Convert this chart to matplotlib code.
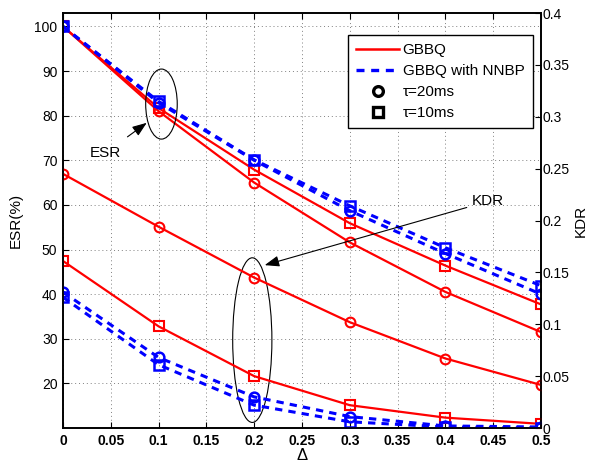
import numpy as np
import matplotlib
matplotlib.use('Agg')
import matplotlib.pyplot as plt
from matplotlib.lines import Line2D
from matplotlib.patches import Ellipse

plt.rcParams['font.family'] = ['Liberation Sans', 'DejaVu Sans']

delta = [0, 0.1, 0.2, 0.3, 0.4, 0.5]

# ESR (%) - left axis
esr_gbbq_20 = [100, 81.0, 65.0, 51.6, 40.5, 31.5]
esr_gbbq_10 = [100, 81.7, 67.9, 55.9, 46.4, 37.7]
esr_nnbp_20 = [100, 82.9, 70.0, 58.7, 49.1, 40.0]
esr_nnbp_10 = [100, 83.2, 70.1, 59.8, 50.4, 41.9]

# KDR - right axis
kdr_gbbq_20 = [0.245, 0.194, 0.145, 0.102, 0.067, 0.0415]
kdr_gbbq_10 = [0.161, 0.098, 0.050, 0.022, 0.010, 0.004]
kdr_nnbp_20 = [0.131, 0.068, 0.030, 0.011, 0.002, 0.001]
kdr_nnbp_10 = [0.126, 0.061, 0.022, 0.006, 0.001, 0.0]

xticks = [0, 0.05, 0.1, 0.15, 0.2, 0.25, 0.3, 0.35, 0.4, 0.45, 0.5]
xticklabels = ['0', '0.05', '0.1', '0.15', '0.2', '0.25', '0.3', '0.35', '0.4', '0.45', '0.5']
esr_ticks = [20, 30, 40, 50, 60, 70, 80, 90, 100]
kdr_ticks = [0, 0.05, 0.1, 0.15, 0.2, 0.25, 0.3, 0.35, 0.4]
kdr_ticklabels = ['0', '0.05', '0.1', '0.15', '0.2', '0.25', '0.3', '0.35', '0.4']

RED = (1, 0, 0)
BLUE = (0, 0, 1)
red_kw = dict(color=RED, lw=1.6, ms=7, mfc='none', mew=1.5)
blue_kw = dict(color=BLUE, lw=2.2, ms=7, mfc='none', mew=1.8, ls=(0, (2.4, 2.0)))

fig = plt.figure(figsize=(5.92, 4.66), dpi=100)
ax = fig.add_axes([0.1064, 0.0815, 0.8075, 0.8905])
ax2 = ax.twinx()

# ESR curves
ax.plot(delta, esr_gbbq_20, marker='o', **red_kw)
ax.plot(delta, esr_gbbq_10, marker='s', **red_kw)
ax.plot(delta, esr_nnbp_20, marker='o', **blue_kw)
ax.plot(delta, esr_nnbp_10, marker='s', **blue_kw)

# KDR curves
ax2.plot(delta, kdr_gbbq_20, marker='o', **red_kw)
ax2.plot(delta, kdr_gbbq_10, marker='s', **red_kw)
ax2.plot(delta, kdr_nnbp_20, marker='o', **blue_kw)
ax2.plot(delta, kdr_nnbp_10, marker='s', **blue_kw)

ax.set_xlim(0, 0.5)
ax.set_ylim(10, 103)
ax2.set_ylim(0, 0.4)

ax.set_xticks(xticks)
ax.set_xticklabels(xticklabels, fontsize=10, fontweight='bold')
ax.set_yticks(esr_ticks)
ax.set_yticklabels([str(t) for t in esr_ticks], fontsize=10)
ax2.set_yticks(kdr_ticks)
ax2.set_yticklabels(kdr_ticklabels, fontsize=10)

ax.tick_params(direction='in', length=4, width=0.8, top=True, pad=4)
ax2.tick_params(direction='in', length=4, width=0.8, pad=1)
ax.grid(True, ls=(0, (1, 3)), color='0.5', lw=0.7)

for s in ax.spines.values():
    s.set_linewidth(1.2)
for s in ax2.spines.values():
    s.set_linewidth(1.2)

ax.set_xlabel('Δ', fontsize=12, labelpad=0)
ax.set_ylabel('ESR(%)', fontsize=11, labelpad=8)
ax2.set_ylabel('KDR', fontsize=11, labelpad=3)

# annotations
ax.add_patch(Ellipse((0.103, 82.6), 0.033, 15.7, fc='none', ec='black', lw=0.8, zorder=5))
ax.add_patch(Ellipse((0.198, 29.7), 0.041, 36.9, fc='none', ec='black', lw=0.8, zorder=5))
ax.annotate('ESR', xy=(0.0876, 78.4), xytext=(0.044, 71.6), fontsize=11,
            ha='center', va='center',
            arrowprops=dict(arrowstyle='-|>,head_length=0.8,head_width=0.3', color='black', lw=0.8,
                            shrinkA=8, shrinkB=0))
ax.annotate('KDR', xy=(0.211, 46.5), xytext=(0.428, 60.8), fontsize=11,
            ha='left', va='center',
            arrowprops=dict(arrowstyle='-|>,head_length=0.8,head_width=0.3', color='black', lw=0.8,
                            shrinkA=2, shrinkB=0))

handles = [
    Line2D([], [], color=RED, lw=1.8),
    Line2D([], [], color=BLUE, lw=2.4, ls=(0, (2.4, 2.0))),
    Line2D([], [], color='black', ls='none', marker='o', ms=7, mfc='none', mew=2.4),
    Line2D([], [], color='black', ls='none', marker='s', ms=6.5, mfc='none', mew=2.4),
]
labels = ['GBBQ', 'GBBQ with NNBP', 'τ=20ms', 'τ=10ms']
leg = ax2.legend(handles, labels, loc='upper right', bbox_to_anchor=(0.983, 0.947),
                 fontsize=11, frameon=True, fancybox=False, framealpha=1,
                 edgecolor='black', borderpad=0.55, labelspacing=0.45,
                 handlelength=2.8, handletextpad=0.25, borderaxespad=0)
leg.get_frame().set_linewidth(1.0)

fig.savefig('out.png', dpi=100)
